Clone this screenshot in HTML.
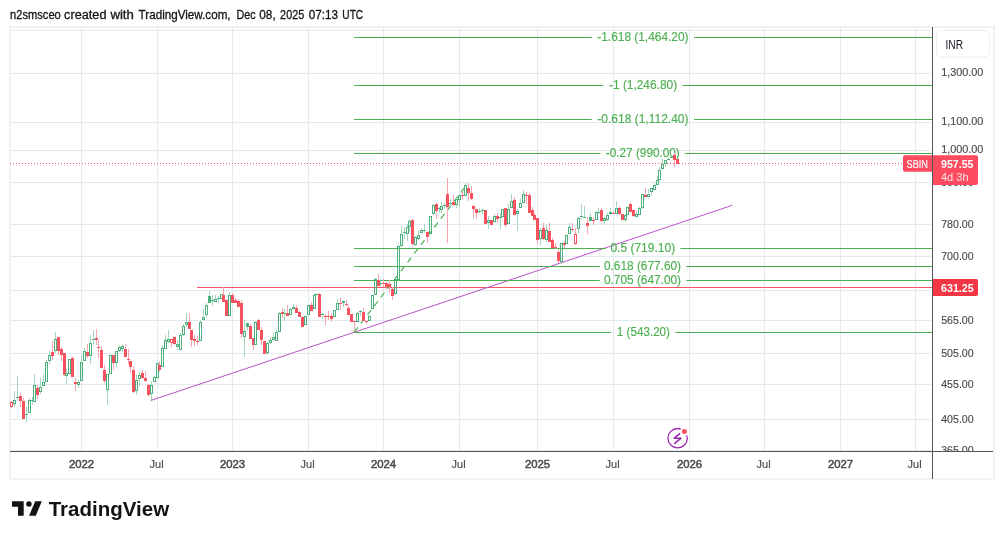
<!DOCTYPE html>
<html><head><meta charset="utf-8"><title>SBIN chart</title><style>
html,body{margin:0;padding:0;background:#fff;width:1004px;height:539px;overflow:hidden;}
svg{display:block;will-change:transform;}
text{font-family:'Liberation Sans', sans-serif;}
.t{stroke:currentColor;stroke-width:0.3px;}
.t2{stroke:currentColor;stroke-width:0.15px;}
.t3{stroke:currentColor;stroke-width:0.5px;}
</style></head><body>
<svg width="1004" height="539" viewBox="0 0 1004 539">

<text class="t" color="#161616" x="10.0" y="19" font-size="12" fill="#161616" textLength="50.8" lengthAdjust="spacingAndGlyphs">n2smsceo</text>
<text class="t" color="#161616" x="64.1" y="19" font-size="12" fill="#161616" textLength="42.4" lengthAdjust="spacingAndGlyphs">created</text>
<text class="t" color="#161616" x="110.4" y="19" font-size="12" fill="#161616" textLength="23.5" lengthAdjust="spacingAndGlyphs">with</text>
<text class="t" color="#161616" x="138.6" y="19" font-size="12" fill="#161616" textLength="92.0" lengthAdjust="spacingAndGlyphs">TradingView.com,</text>
<text class="t" color="#161616" x="236.6" y="19" font-size="12" fill="#161616" textLength="19.1" lengthAdjust="spacingAndGlyphs">Dec</text>
<text class="t" color="#161616" x="259.3" y="19" font-size="12" fill="#161616" textLength="16.4" lengthAdjust="spacingAndGlyphs">08,</text>
<text class="t" color="#161616" x="280.1" y="19" font-size="12" fill="#161616" textLength="24.2" lengthAdjust="spacingAndGlyphs">2025</text>
<text class="t" color="#161616" x="308.7" y="19" font-size="12" fill="#161616" textLength="29.3" lengthAdjust="spacingAndGlyphs">07:13</text>
<text class="t" color="#161616" x="342.3" y="19" font-size="12" fill="#161616" textLength="20.9" lengthAdjust="spacingAndGlyphs">UTC</text>
<rect x="10" y="27" width="984" height="452" fill="#fff" stroke="#f2f2f2" stroke-width="2"/>
<defs><clipPath id="pc"><rect x="10" y="27" width="922" height="424"/></clipPath></defs>
<g clip-path="url(#pc)">
<rect x="10" y="30" width="921" height="1" fill="#e0eaf0"/>
<rect x="10" y="73" width="921" height="1" fill="#e0eaf0"/>
<rect x="10" y="122" width="921" height="1" fill="#e0eaf0"/>
<rect x="10" y="150" width="921" height="1" fill="#e0eaf0"/>
<rect x="10" y="182" width="921" height="1" fill="#e0eaf0"/>
<rect x="10" y="224" width="921" height="1" fill="#e0eaf0"/>
<rect x="10" y="256" width="921" height="1" fill="#e0eaf0"/>
<rect x="10" y="290" width="921" height="1" fill="#e0eaf0"/>
<rect x="10" y="320" width="921" height="1" fill="#e0eaf0"/>
<rect x="10" y="353" width="921" height="1" fill="#e0eaf0"/>
<rect x="10" y="384" width="921" height="1" fill="#e0eaf0"/>
<rect x="10" y="419" width="921" height="1" fill="#e0eaf0"/>
<rect x="10" y="450" width="921" height="1" fill="#e0eaf0"/>
<rect x="81" y="27" width="1" height="424" fill="#e0eaf0"/>
<rect x="157" y="27" width="1" height="424" fill="#e0eaf0"/>
<rect x="232" y="27" width="1" height="424" fill="#e0eaf0"/>
<rect x="308" y="27" width="1" height="424" fill="#e0eaf0"/>
<rect x="383" y="27" width="1" height="424" fill="#e0eaf0"/>
<rect x="459" y="27" width="1" height="424" fill="#e0eaf0"/>
<rect x="537" y="27" width="1" height="424" fill="#e0eaf0"/>
<rect x="613" y="27" width="1" height="424" fill="#e0eaf0"/>
<rect x="689" y="27" width="1" height="424" fill="#e0eaf0"/>
<rect x="764" y="27" width="1" height="424" fill="#e0eaf0"/>
<rect x="840" y="27" width="1" height="424" fill="#e0eaf0"/>
<rect x="915" y="27" width="1" height="424" fill="#e0eaf0"/>
<line x1="10" y1="163.5" x2="903" y2="163.5" stroke="#f7525f" stroke-width="1" stroke-dasharray="1 2"/>
<rect x="197" y="287" width="735" height="1" fill="#f7525f"/>
<line x1="150.6" y1="400.6" x2="732.3" y2="205.3" stroke="#b852c8" stroke-width="1"/>
<rect x="354" y="37" width="237.7" height="1" fill="#4caf50"/>
<rect x="694.0" y="37" width="238.0" height="1" fill="#4caf50"/>
<text class="t2" color="#4caf50" x="597.3" y="40.9" font-size="12.5" fill="#4caf50" textLength="91.2" lengthAdjust="spacingAndGlyphs">-1.618 (1,464.20)</text>
<rect x="354" y="85" width="249.1" height="1" fill="#4caf50"/>
<rect x="682.5" y="85" width="249.5" height="1" fill="#4caf50"/>
<text class="t2" color="#4caf50" x="609.0" y="88.9" font-size="12.5" fill="#4caf50" textLength="68.1" lengthAdjust="spacingAndGlyphs">-1 (1,246.80)</text>
<rect x="354" y="119" width="237.7" height="1" fill="#4caf50"/>
<rect x="694.0" y="119" width="238.0" height="1" fill="#4caf50"/>
<text class="t2" color="#4caf50" x="597.3" y="122.9" font-size="12.5" fill="#4caf50" textLength="91.2" lengthAdjust="spacingAndGlyphs">-0.618 (1,112.40)</text>
<rect x="354" y="153" width="246.4" height="1" fill="#4caf50"/>
<rect x="685.2" y="153" width="246.8" height="1" fill="#4caf50"/>
<text class="t2" color="#4caf50" x="605.8" y="156.9" font-size="12.5" fill="#4caf50" textLength="74.0" lengthAdjust="spacingAndGlyphs">-0.27 (990.00)</text>
<rect x="354" y="248" width="251.9" height="1" fill="#4caf50"/>
<rect x="680.4" y="248" width="251.6" height="1" fill="#4caf50"/>
<text class="t2" color="#4caf50" x="610.4" y="251.9" font-size="12.5" fill="#4caf50" textLength="64.8" lengthAdjust="spacingAndGlyphs">0.5 (719.10)</text>
<rect x="354" y="266" width="245.7" height="1" fill="#4caf50"/>
<rect x="686.2" y="266" width="245.8" height="1" fill="#4caf50"/>
<text class="t2" color="#4caf50" x="604.0" y="269.9" font-size="12.5" fill="#4caf50" textLength="77.0" lengthAdjust="spacingAndGlyphs">0.618 (677.60)</text>
<rect x="354" y="280" width="245.7" height="1" fill="#4caf50"/>
<rect x="686.2" y="280" width="245.8" height="1" fill="#4caf50"/>
<text class="t2" color="#4caf50" x="604.0" y="283.9" font-size="12.5" fill="#4caf50" textLength="77.0" lengthAdjust="spacingAndGlyphs">0.705 (647.00)</text>
<rect x="354" y="332" width="256.8" height="1" fill="#4caf50"/>
<rect x="675.2" y="332" width="256.8" height="1" fill="#4caf50"/>
<text class="t2" color="#4caf50" x="616.8" y="335.9" font-size="12.5" fill="#4caf50" textLength="53.2" lengthAdjust="spacingAndGlyphs">1 (543.20)</text>
<line x1="354.3" y1="332.1" x2="466.5" y2="185" stroke="#4caf50" stroke-width="1.2" stroke-dasharray="6 5" stroke-dashoffset="0.2"/>
<rect x="11" y="401" width="1" height="1" fill="#f9a5ad"/>
<rect x="11" y="407" width="1" height="1" fill="#f9a5ad"/>
<path d="M10 402h3v5h-3z M11 403v3h1v-3z" fill="#f7525f" fill-rule="evenodd"/>
<rect x="14" y="391" width="1" height="9" fill="#a6d8bb"/>
<rect x="14" y="404" width="1" height="3" fill="#a6d8bb"/>
<path d="M13 400h3v4h-3z M14 401v2h1v-2z" fill="#4caf7d" fill-rule="evenodd"/>
<rect x="17" y="376" width="1" height="21" fill="#a6d8bb"/>
<rect x="17" y="398" width="1" height="2" fill="#a6d8bb"/>
<rect x="16" y="397" width="3" height="1" fill="#4caf7d"/>
<rect x="20" y="393" width="1" height="3" fill="#f9a5ad"/>
<rect x="20" y="401" width="1" height="6" fill="#f9a5ad"/>
<rect x="19" y="396" width="3" height="5" fill="#f7525f"/>
<rect x="23" y="398" width="1" height="3" fill="#f9a5ad"/>
<rect x="22" y="401" width="3" height="18" fill="#f7525f"/>
<rect x="26" y="407" width="1" height="7" fill="#a6d8bb"/>
<rect x="26" y="415" width="1" height="7" fill="#a6d8bb"/>
<rect x="25" y="414" width="3" height="1" fill="#4caf7d"/>
<rect x="29" y="398" width="1" height="2" fill="#a6d8bb"/>
<path d="M28 400h3v13h-3z M29 401v11h1v-11z" fill="#4caf7d" fill-rule="evenodd"/>
<rect x="32" y="397" width="1" height="3" fill="#a6d8bb"/>
<rect x="32" y="401" width="1" height="4" fill="#a6d8bb"/>
<rect x="31" y="400" width="3" height="1" fill="#4caf7d"/>
<rect x="34" y="374" width="1" height="11" fill="#a6d8bb"/>
<path d="M33 385h3v17h-3z M34 386v15h1v-15z" fill="#4caf7d" fill-rule="evenodd"/>
<rect x="37" y="385" width="1" height="3" fill="#f9a5ad"/>
<rect x="37" y="395" width="1" height="4" fill="#f9a5ad"/>
<rect x="36" y="388" width="3" height="7" fill="#f7525f"/>
<rect x="40" y="378" width="1" height="9" fill="#a6d8bb"/>
<rect x="40" y="392" width="1" height="2" fill="#a6d8bb"/>
<path d="M39 387h3v5h-3z M40 388v3h1v-3z" fill="#4caf7d" fill-rule="evenodd"/>
<rect x="43" y="374" width="1" height="8" fill="#a6d8bb"/>
<path d="M42 382h3v4h-3z M43 383v2h1v-2z" fill="#4caf7d" fill-rule="evenodd"/>
<rect x="46" y="360" width="1" height="2" fill="#a6d8bb"/>
<path d="M45 362h3v20h-3z M46 363v18h1v-18z" fill="#4caf7d" fill-rule="evenodd"/>
<rect x="49" y="351" width="1" height="4" fill="#a6d8bb"/>
<rect x="49" y="361" width="1" height="3" fill="#a6d8bb"/>
<path d="M48 355h3v6h-3z M49 356v4h1v-4z" fill="#4caf7d" fill-rule="evenodd"/>
<rect x="52" y="341" width="1" height="11" fill="#f9a5ad"/>
<rect x="52" y="356" width="1" height="4" fill="#f9a5ad"/>
<rect x="51" y="352" width="3" height="4" fill="#f7525f"/>
<rect x="55" y="332" width="1" height="7" fill="#a6d8bb"/>
<rect x="55" y="351" width="1" height="2" fill="#a6d8bb"/>
<path d="M54 339h3v12h-3z M55 340v10h1v-10z" fill="#4caf7d" fill-rule="evenodd"/>
<rect x="58" y="351" width="1" height="4" fill="#f9a5ad"/>
<rect x="57" y="337" width="3" height="14" fill="#f7525f"/>
<rect x="61" y="347" width="1" height="2" fill="#f9a5ad"/>
<rect x="61" y="355" width="1" height="6" fill="#f9a5ad"/>
<rect x="60" y="349" width="3" height="6" fill="#f7525f"/>
<rect x="64" y="375" width="1" height="1" fill="#f9a5ad"/>
<rect x="63" y="353" width="3" height="22" fill="#f7525f"/>
<rect x="66" y="369" width="1" height="4" fill="#a6d8bb"/>
<rect x="66" y="376" width="1" height="8" fill="#a6d8bb"/>
<path d="M65 373h3v3h-3z M66 374v1h1v-1z" fill="#4caf7d" fill-rule="evenodd"/>
<rect x="69" y="374" width="1" height="1" fill="#a6d8bb"/>
<path d="M68 359h3v15h-3z M69 360v13h1v-13z" fill="#4caf7d" fill-rule="evenodd"/>
<rect x="72" y="357" width="1" height="1" fill="#f9a5ad"/>
<rect x="71" y="358" width="3" height="19" fill="#f7525f"/>
<rect x="75" y="378" width="1" height="4" fill="#f9a5ad"/>
<rect x="75" y="384" width="1" height="7" fill="#f9a5ad"/>
<rect x="74" y="382" width="3" height="2" fill="#f7525f"/>
<rect x="78" y="380" width="1" height="2" fill="#a6d8bb"/>
<rect x="78" y="385" width="1" height="3" fill="#a6d8bb"/>
<path d="M77 382h3v3h-3z M78 383v1h1v-1z" fill="#4caf7d" fill-rule="evenodd"/>
<rect x="81" y="355" width="1" height="7" fill="#a6d8bb"/>
<path d="M80 362h3v19h-3z M81 363v17h1v-17z" fill="#4caf7d" fill-rule="evenodd"/>
<rect x="84" y="348" width="1" height="3" fill="#a6d8bb"/>
<path d="M83 351h3v10h-3z M84 352v8h1v-8z" fill="#4caf7d" fill-rule="evenodd"/>
<rect x="87" y="344" width="1" height="8" fill="#f9a5ad"/>
<rect x="87" y="356" width="1" height="2" fill="#f9a5ad"/>
<rect x="86" y="352" width="3" height="4" fill="#f7525f"/>
<rect x="90" y="335" width="1" height="8" fill="#a6d8bb"/>
<rect x="90" y="356" width="1" height="8" fill="#a6d8bb"/>
<path d="M89 343h3v13h-3z M90 344v11h1v-11z" fill="#4caf7d" fill-rule="evenodd"/>
<rect x="93" y="330" width="1" height="9" fill="#a6d8bb"/>
<rect x="93" y="340" width="1" height="5" fill="#a6d8bb"/>
<rect x="92" y="339" width="3" height="1" fill="#4caf7d"/>
<rect x="96" y="329" width="1" height="9" fill="#f9a5ad"/>
<rect x="96" y="340" width="1" height="5" fill="#f9a5ad"/>
<rect x="95" y="338" width="3" height="2" fill="#f7525f"/>
<rect x="98" y="340" width="1" height="7" fill="#f9a5ad"/>
<rect x="98" y="348" width="1" height="10" fill="#f9a5ad"/>
<rect x="97" y="347" width="3" height="1" fill="#f7525f"/>
<rect x="101" y="346" width="1" height="4" fill="#f9a5ad"/>
<rect x="100" y="350" width="3" height="18" fill="#f7525f"/>
<rect x="104" y="365" width="1" height="5" fill="#f9a5ad"/>
<rect x="104" y="381" width="1" height="2" fill="#f9a5ad"/>
<rect x="103" y="370" width="3" height="11" fill="#f7525f"/>
<rect x="107" y="390" width="1" height="15" fill="#a6d8bb"/>
<path d="M106 374h3v16h-3z M107 375v14h1v-14z" fill="#4caf7d" fill-rule="evenodd"/>
<rect x="110" y="354" width="1" height="1" fill="#a6d8bb"/>
<path d="M109 355h3v19h-3z M110 356v17h1v-17z" fill="#4caf7d" fill-rule="evenodd"/>
<rect x="113" y="363" width="1" height="7" fill="#f9a5ad"/>
<rect x="112" y="355" width="3" height="8" fill="#f7525f"/>
<rect x="116" y="363" width="1" height="4" fill="#a6d8bb"/>
<path d="M115 351h3v12h-3z M116 352v10h1v-10z" fill="#4caf7d" fill-rule="evenodd"/>
<rect x="119" y="345" width="1" height="2" fill="#a6d8bb"/>
<rect x="119" y="351" width="1" height="1" fill="#a6d8bb"/>
<path d="M118 347h3v4h-3z M119 348v2h1v-2z" fill="#4caf7d" fill-rule="evenodd"/>
<rect x="122" y="344" width="1" height="2" fill="#a6d8bb"/>
<rect x="122" y="349" width="1" height="3" fill="#a6d8bb"/>
<path d="M121 346h3v3h-3z M122 347v1h1v-1z" fill="#4caf7d" fill-rule="evenodd"/>
<rect x="125" y="344" width="1" height="5" fill="#f9a5ad"/>
<rect x="124" y="349" width="3" height="8" fill="#f7525f"/>
<rect x="128" y="349" width="1" height="10" fill="#f9a5ad"/>
<rect x="128" y="360" width="1" height="4" fill="#f9a5ad"/>
<rect x="127" y="359" width="3" height="1" fill="#f7525f"/>
<rect x="130" y="367" width="1" height="6" fill="#f9a5ad"/>
<rect x="129" y="361" width="3" height="6" fill="#f7525f"/>
<rect x="133" y="366" width="1" height="4" fill="#f9a5ad"/>
<rect x="133" y="392" width="1" height="1" fill="#f9a5ad"/>
<rect x="132" y="370" width="3" height="22" fill="#f7525f"/>
<rect x="136" y="375" width="1" height="5" fill="#a6d8bb"/>
<rect x="136" y="391" width="1" height="4" fill="#a6d8bb"/>
<path d="M135 380h3v11h-3z M136 381v9h1v-9z" fill="#4caf7d" fill-rule="evenodd"/>
<rect x="139" y="372" width="1" height="3" fill="#a6d8bb"/>
<rect x="139" y="379" width="1" height="7" fill="#a6d8bb"/>
<path d="M138 375h3v4h-3z M139 376v2h1v-2z" fill="#4caf7d" fill-rule="evenodd"/>
<rect x="142" y="370" width="1" height="3" fill="#f9a5ad"/>
<rect x="142" y="378" width="1" height="1" fill="#f9a5ad"/>
<rect x="141" y="373" width="3" height="5" fill="#f7525f"/>
<rect x="145" y="371" width="1" height="7" fill="#f9a5ad"/>
<rect x="145" y="381" width="1" height="1" fill="#f9a5ad"/>
<rect x="144" y="378" width="3" height="3" fill="#f7525f"/>
<rect x="148" y="384" width="1" height="1" fill="#f9a5ad"/>
<rect x="148" y="395" width="1" height="1" fill="#f9a5ad"/>
<rect x="147" y="385" width="3" height="10" fill="#f7525f"/>
<rect x="151" y="381" width="1" height="4" fill="#a6d8bb"/>
<rect x="151" y="394" width="1" height="6" fill="#a6d8bb"/>
<path d="M150 385h3v9h-3z M151 386v7h1v-7z" fill="#4caf7d" fill-rule="evenodd"/>
<rect x="154" y="376" width="1" height="1" fill="#a6d8bb"/>
<path d="M153 377h3v5h-3z M154 378v3h1v-3z" fill="#4caf7d" fill-rule="evenodd"/>
<rect x="157" y="362" width="1" height="1" fill="#a6d8bb"/>
<path d="M156 363h3v15h-3z M157 364v13h1v-13z" fill="#4caf7d" fill-rule="evenodd"/>
<rect x="159" y="361" width="1" height="4" fill="#f9a5ad"/>
<rect x="159" y="370" width="1" height="2" fill="#f9a5ad"/>
<rect x="158" y="365" width="3" height="5" fill="#f7525f"/>
<rect x="162" y="345" width="1" height="3" fill="#a6d8bb"/>
<path d="M161 348h3v19h-3z M162 349v17h1v-17z" fill="#4caf7d" fill-rule="evenodd"/>
<rect x="165" y="335" width="1" height="5" fill="#a6d8bb"/>
<path d="M164 340h3v9h-3z M165 341v7h1v-7z" fill="#4caf7d" fill-rule="evenodd"/>
<rect x="168" y="330" width="1" height="9" fill="#a6d8bb"/>
<rect x="168" y="342" width="1" height="1" fill="#a6d8bb"/>
<path d="M167 339h3v3h-3z M168 340v1h1v-1z" fill="#4caf7d" fill-rule="evenodd"/>
<rect x="171" y="343" width="1" height="4" fill="#f9a5ad"/>
<path d="M170 339h3v4h-3z M171 340v2h1v-2z" fill="#f7525f" fill-rule="evenodd"/>
<rect x="174" y="336" width="1" height="1" fill="#f9a5ad"/>
<rect x="174" y="344" width="1" height="1" fill="#f9a5ad"/>
<rect x="173" y="337" width="3" height="7" fill="#f7525f"/>
<rect x="177" y="340" width="1" height="4" fill="#a6d8bb"/>
<rect x="177" y="347" width="1" height="3" fill="#a6d8bb"/>
<path d="M176 344h3v3h-3z M177 345v1h1v-1z" fill="#4caf7d" fill-rule="evenodd"/>
<rect x="180" y="333" width="1" height="2" fill="#a6d8bb"/>
<path d="M179 335h3v15h-3z M180 336v13h1v-13z" fill="#4caf7d" fill-rule="evenodd"/>
<rect x="183" y="324" width="1" height="2" fill="#a6d8bb"/>
<rect x="183" y="335" width="1" height="1" fill="#a6d8bb"/>
<path d="M182 326h3v9h-3z M183 327v7h1v-7z" fill="#4caf7d" fill-rule="evenodd"/>
<rect x="186" y="313" width="1" height="9" fill="#a6d8bb"/>
<rect x="186" y="325" width="1" height="2" fill="#a6d8bb"/>
<path d="M185 322h3v3h-3z M186 323v1h1v-1z" fill="#4caf7d" fill-rule="evenodd"/>
<rect x="189" y="313" width="1" height="9" fill="#f9a5ad"/>
<rect x="188" y="322" width="3" height="7" fill="#f7525f"/>
<rect x="191" y="340" width="1" height="7" fill="#f9a5ad"/>
<rect x="190" y="330" width="3" height="10" fill="#f7525f"/>
<rect x="194" y="335" width="1" height="4" fill="#f9a5ad"/>
<rect x="194" y="341" width="1" height="5" fill="#f9a5ad"/>
<rect x="193" y="339" width="3" height="2" fill="#f7525f"/>
<rect x="197" y="336" width="1" height="5" fill="#f9a5ad"/>
<rect x="197" y="342" width="1" height="3" fill="#f9a5ad"/>
<rect x="196" y="341" width="3" height="1" fill="#f7525f"/>
<rect x="200" y="320" width="1" height="2" fill="#a6d8bb"/>
<path d="M199 322h3v19h-3z M200 323v17h1v-17z" fill="#4caf7d" fill-rule="evenodd"/>
<rect x="203" y="309" width="1" height="8" fill="#a6d8bb"/>
<path d="M202 317h3v3h-3z M203 318v1h1v-1z" fill="#4caf7d" fill-rule="evenodd"/>
<rect x="206" y="303" width="1" height="2" fill="#a6d8bb"/>
<rect x="206" y="315" width="1" height="2" fill="#a6d8bb"/>
<path d="M205 305h3v10h-3z M206 306v8h1v-8z" fill="#4caf7d" fill-rule="evenodd"/>
<rect x="209" y="291" width="1" height="5" fill="#a6d8bb"/>
<rect x="208" y="296" width="3" height="7" fill="#4caf7d"/>
<rect x="212" y="295" width="1" height="5" fill="#a6d8bb"/>
<rect x="212" y="301" width="1" height="5" fill="#a6d8bb"/>
<rect x="211" y="300" width="3" height="1" fill="#4caf7d"/>
<rect x="215" y="295" width="1" height="4" fill="#a6d8bb"/>
<path d="M214 299h3v3h-3z M215 300v1h1v-1z" fill="#4caf7d" fill-rule="evenodd"/>
<rect x="218" y="296" width="1" height="2" fill="#a6d8bb"/>
<rect x="218" y="299" width="1" height="4" fill="#a6d8bb"/>
<rect x="217" y="298" width="3" height="1" fill="#4caf7d"/>
<path d="M220 294h3v5h-3z M221 295v3h1v-3z" fill="#4caf7d" fill-rule="evenodd"/>
<rect x="223" y="287" width="1" height="8" fill="#f9a5ad"/>
<rect x="222" y="295" width="3" height="7" fill="#f7525f"/>
<rect x="226" y="299" width="1" height="1" fill="#f9a5ad"/>
<rect x="225" y="300" width="3" height="16" fill="#f7525f"/>
<rect x="229" y="292" width="1" height="3" fill="#a6d8bb"/>
<path d="M228 295h3v21h-3z M229 296v19h1v-19z" fill="#4caf7d" fill-rule="evenodd"/>
<rect x="232" y="293" width="1" height="2" fill="#f9a5ad"/>
<rect x="231" y="295" width="3" height="8" fill="#f7525f"/>
<rect x="235" y="298" width="1" height="2" fill="#f9a5ad"/>
<rect x="234" y="300" width="3" height="3" fill="#f7525f"/>
<rect x="238" y="299" width="1" height="2" fill="#f9a5ad"/>
<rect x="237" y="301" width="3" height="6" fill="#f7525f"/>
<rect x="241" y="300" width="1" height="3" fill="#f9a5ad"/>
<rect x="241" y="334" width="1" height="4" fill="#f9a5ad"/>
<rect x="240" y="303" width="3" height="31" fill="#f7525f"/>
<rect x="244" y="320" width="1" height="11" fill="#a6d8bb"/>
<rect x="244" y="337" width="1" height="20" fill="#a6d8bb"/>
<path d="M243 331h3v6h-3z M244 332v4h1v-4z" fill="#4caf7d" fill-rule="evenodd"/>
<rect x="247" y="327" width="1" height="4" fill="#a6d8bb"/>
<rect x="246" y="323" width="3" height="4" fill="#4caf7d"/>
<rect x="250" y="324" width="1" height="2" fill="#f9a5ad"/>
<rect x="249" y="326" width="3" height="13" fill="#f7525f"/>
<rect x="253" y="345" width="1" height="5" fill="#f9a5ad"/>
<rect x="252" y="338" width="3" height="7" fill="#f7525f"/>
<rect x="255" y="321" width="1" height="1" fill="#a6d8bb"/>
<path d="M254 322h3v23h-3z M255 323v21h1v-21z" fill="#4caf7d" fill-rule="evenodd"/>
<rect x="258" y="319" width="1" height="1" fill="#f9a5ad"/>
<rect x="257" y="320" width="3" height="10" fill="#f7525f"/>
<rect x="261" y="327" width="1" height="3" fill="#f9a5ad"/>
<rect x="261" y="340" width="1" height="5" fill="#f9a5ad"/>
<rect x="260" y="330" width="3" height="10" fill="#f7525f"/>
<rect x="263" y="341" width="3" height="13" fill="#f7525f"/>
<rect x="267" y="342" width="1" height="1" fill="#a6d8bb"/>
<rect x="267" y="353" width="1" height="2" fill="#a6d8bb"/>
<path d="M266 343h3v10h-3z M267 344v8h1v-8z" fill="#4caf7d" fill-rule="evenodd"/>
<rect x="270" y="337" width="1" height="3" fill="#a6d8bb"/>
<rect x="270" y="343" width="1" height="1" fill="#a6d8bb"/>
<path d="M269 340h3v3h-3z M270 341v1h1v-1z" fill="#4caf7d" fill-rule="evenodd"/>
<rect x="273" y="333" width="1" height="4" fill="#a6d8bb"/>
<path d="M272 337h3v3h-3z M273 338v1h1v-1z" fill="#4caf7d" fill-rule="evenodd"/>
<rect x="276" y="330" width="1" height="2" fill="#a6d8bb"/>
<path d="M275 332h3v9h-3z M276 333v7h1v-7z" fill="#4caf7d" fill-rule="evenodd"/>
<rect x="279" y="312" width="1" height="1" fill="#a6d8bb"/>
<path d="M278 313h3v19h-3z M279 314v17h1v-17z" fill="#4caf7d" fill-rule="evenodd"/>
<rect x="282" y="308" width="1" height="4" fill="#f9a5ad"/>
<rect x="282" y="314" width="1" height="4" fill="#f9a5ad"/>
<rect x="281" y="312" width="3" height="2" fill="#f7525f"/>
<rect x="284" y="309" width="1" height="4" fill="#a6d8bb"/>
<rect x="284" y="314" width="1" height="7" fill="#a6d8bb"/>
<rect x="283" y="313" width="3" height="1" fill="#4caf7d"/>
<rect x="287" y="305" width="1" height="8" fill="#f9a5ad"/>
<rect x="286" y="313" width="3" height="3" fill="#f7525f"/>
<rect x="290" y="308" width="1" height="1" fill="#a6d8bb"/>
<path d="M289 309h3v6h-3z M290 310v4h1v-4z" fill="#4caf7d" fill-rule="evenodd"/>
<rect x="293" y="304" width="1" height="3" fill="#a6d8bb"/>
<rect x="293" y="309" width="1" height="1" fill="#a6d8bb"/>
<rect x="292" y="307" width="3" height="2" fill="#4caf7d"/>
<rect x="296" y="305" width="1" height="3" fill="#f9a5ad"/>
<rect x="295" y="308" width="3" height="5" fill="#f7525f"/>
<rect x="299" y="311" width="1" height="1" fill="#f9a5ad"/>
<rect x="298" y="312" width="3" height="5" fill="#f7525f"/>
<rect x="302" y="316" width="1" height="1" fill="#f9a5ad"/>
<rect x="301" y="317" width="3" height="10" fill="#f7525f"/>
<rect x="305" y="315" width="1" height="1" fill="#a6d8bb"/>
<path d="M304 316h3v9h-3z M305 317v7h1v-7z" fill="#4caf7d" fill-rule="evenodd"/>
<path d="M307 305h3v10h-3z M308 306v8h1v-8z" fill="#4caf7d" fill-rule="evenodd"/>
<rect x="311" y="302" width="1" height="3" fill="#f9a5ad"/>
<rect x="310" y="305" width="3" height="6" fill="#f7525f"/>
<rect x="314" y="293" width="1" height="2" fill="#a6d8bb"/>
<path d="M313 295h3v14h-3z M314 296v12h1v-12z" fill="#4caf7d" fill-rule="evenodd"/>
<rect x="316" y="293" width="1" height="1" fill="#a6d8bb"/>
<rect x="315" y="294" width="3" height="1" fill="#4caf7d"/>
<rect x="319" y="293" width="1" height="1" fill="#f9a5ad"/>
<rect x="318" y="294" width="3" height="23" fill="#f7525f"/>
<rect x="322" y="313" width="1" height="1" fill="#a6d8bb"/>
<rect x="322" y="315" width="1" height="4" fill="#a6d8bb"/>
<rect x="321" y="314" width="3" height="1" fill="#4caf7d"/>
<rect x="325" y="314" width="1" height="2" fill="#f9a5ad"/>
<rect x="325" y="317" width="1" height="8" fill="#f9a5ad"/>
<rect x="324" y="316" width="3" height="1" fill="#f7525f"/>
<rect x="328" y="311" width="1" height="5" fill="#f9a5ad"/>
<rect x="328" y="317" width="1" height="3" fill="#f9a5ad"/>
<rect x="327" y="316" width="3" height="1" fill="#f7525f"/>
<rect x="331" y="313" width="1" height="3" fill="#f9a5ad"/>
<rect x="331" y="319" width="1" height="3" fill="#f9a5ad"/>
<rect x="330" y="316" width="3" height="3" fill="#f7525f"/>
<path d="M333 310h3v7h-3z M334 311v5h1v-5z" fill="#4caf7d" fill-rule="evenodd"/>
<rect x="337" y="299" width="1" height="4" fill="#a6d8bb"/>
<path d="M336 303h3v7h-3z M337 304v5h1v-5z" fill="#4caf7d" fill-rule="evenodd"/>
<rect x="340" y="298" width="1" height="5" fill="#f9a5ad"/>
<rect x="340" y="304" width="1" height="6" fill="#f9a5ad"/>
<rect x="339" y="303" width="3" height="1" fill="#f7525f"/>
<rect x="343" y="303" width="1" height="4" fill="#a6d8bb"/>
<rect x="342" y="301" width="3" height="2" fill="#4caf7d"/>
<rect x="346" y="300" width="1" height="4" fill="#f9a5ad"/>
<rect x="346" y="305" width="1" height="1" fill="#f9a5ad"/>
<rect x="345" y="304" width="3" height="1" fill="#f7525f"/>
<rect x="348" y="305" width="1" height="3" fill="#f9a5ad"/>
<rect x="347" y="308" width="3" height="7" fill="#f7525f"/>
<rect x="350" y="314" width="3" height="8" fill="#f7525f"/>
<rect x="354" y="322" width="1" height="9" fill="#f9a5ad"/>
<rect x="353" y="321" width="3" height="1" fill="#f7525f"/>
<rect x="357" y="312" width="1" height="1" fill="#a6d8bb"/>
<path d="M356 313h3v9h-3z M357 314v7h1v-7z" fill="#4caf7d" fill-rule="evenodd"/>
<rect x="360" y="310" width="1" height="1" fill="#a6d8bb"/>
<rect x="360" y="312" width="1" height="4" fill="#a6d8bb"/>
<rect x="359" y="311" width="3" height="1" fill="#4caf7d"/>
<rect x="363" y="308" width="1" height="4" fill="#f9a5ad"/>
<rect x="362" y="312" width="3" height="9" fill="#f7525f"/>
<rect x="366" y="320" width="1" height="1" fill="#f9a5ad"/>
<rect x="366" y="322" width="1" height="2" fill="#f9a5ad"/>
<rect x="365" y="321" width="3" height="1" fill="#f7525f"/>
<rect x="369" y="315" width="1" height="1" fill="#a6d8bb"/>
<path d="M368 316h3v5h-3z M369 317v3h1v-3z" fill="#4caf7d" fill-rule="evenodd"/>
<path d="M371 295h3v14h-3z M372 296v12h1v-12z" fill="#4caf7d" fill-rule="evenodd"/>
<rect x="375" y="278" width="1" height="1" fill="#a6d8bb"/>
<path d="M374 279h3v16h-3z M375 280v14h1v-14z" fill="#4caf7d" fill-rule="evenodd"/>
<rect x="378" y="274" width="1" height="6" fill="#f9a5ad"/>
<rect x="378" y="286" width="1" height="1" fill="#f9a5ad"/>
<rect x="377" y="280" width="3" height="6" fill="#f7525f"/>
<rect x="380" y="279" width="1" height="4" fill="#a6d8bb"/>
<rect x="380" y="284" width="1" height="2" fill="#a6d8bb"/>
<rect x="379" y="283" width="3" height="1" fill="#4caf7d"/>
<rect x="383" y="279" width="1" height="4" fill="#f9a5ad"/>
<rect x="383" y="284" width="1" height="3" fill="#f9a5ad"/>
<rect x="382" y="283" width="3" height="1" fill="#f7525f"/>
<rect x="386" y="282" width="1" height="1" fill="#f9a5ad"/>
<rect x="386" y="287" width="1" height="2" fill="#f9a5ad"/>
<rect x="385" y="283" width="3" height="4" fill="#f7525f"/>
<rect x="389" y="280" width="1" height="4" fill="#f9a5ad"/>
<rect x="389" y="287" width="1" height="6" fill="#f9a5ad"/>
<rect x="388" y="284" width="3" height="3" fill="#f7525f"/>
<rect x="392" y="287" width="1" height="2" fill="#f9a5ad"/>
<rect x="392" y="296" width="1" height="4" fill="#f9a5ad"/>
<rect x="391" y="289" width="3" height="7" fill="#f7525f"/>
<rect x="395" y="278" width="1" height="1" fill="#a6d8bb"/>
<rect x="395" y="294" width="1" height="1" fill="#a6d8bb"/>
<path d="M394 279h3v15h-3z M395 280v13h1v-13z" fill="#4caf7d" fill-rule="evenodd"/>
<rect x="398" y="245" width="1" height="1" fill="#a6d8bb"/>
<path d="M397 246h3v34h-3z M398 247v32h1v-32z" fill="#4caf7d" fill-rule="evenodd"/>
<rect x="401" y="226" width="1" height="8" fill="#a6d8bb"/>
<rect x="401" y="246" width="1" height="1" fill="#a6d8bb"/>
<path d="M400 234h3v12h-3z M401 235v10h1v-10z" fill="#4caf7d" fill-rule="evenodd"/>
<rect x="404" y="227" width="1" height="5" fill="#a6d8bb"/>
<rect x="404" y="233" width="1" height="6" fill="#a6d8bb"/>
<rect x="403" y="232" width="3" height="1" fill="#4caf7d"/>
<rect x="407" y="224" width="1" height="3" fill="#a6d8bb"/>
<rect x="407" y="234" width="1" height="7" fill="#a6d8bb"/>
<path d="M406 227h3v7h-3z M407 228v5h1v-5z" fill="#4caf7d" fill-rule="evenodd"/>
<rect x="409" y="219" width="1" height="2" fill="#a6d8bb"/>
<rect x="409" y="227" width="1" height="5" fill="#a6d8bb"/>
<path d="M408 221h3v6h-3z M409 222v4h1v-4z" fill="#4caf7d" fill-rule="evenodd"/>
<rect x="412" y="219" width="1" height="1" fill="#f9a5ad"/>
<rect x="412" y="244" width="1" height="2" fill="#f9a5ad"/>
<rect x="411" y="220" width="3" height="24" fill="#f7525f"/>
<rect x="415" y="236" width="1" height="1" fill="#a6d8bb"/>
<rect x="415" y="245" width="1" height="1" fill="#a6d8bb"/>
<path d="M414 237h3v8h-3z M415 238v6h1v-6z" fill="#4caf7d" fill-rule="evenodd"/>
<rect x="418" y="231" width="1" height="4" fill="#a6d8bb"/>
<rect x="418" y="239" width="1" height="1" fill="#a6d8bb"/>
<path d="M417 235h3v4h-3z M418 236v2h1v-2z" fill="#4caf7d" fill-rule="evenodd"/>
<rect x="421" y="228" width="1" height="2" fill="#a6d8bb"/>
<path d="M420 230h3v3h-3z M421 231v1h1v-1z" fill="#4caf7d" fill-rule="evenodd"/>
<rect x="424" y="224" width="1" height="6" fill="#a6d8bb"/>
<rect x="424" y="231" width="1" height="2" fill="#a6d8bb"/>
<rect x="423" y="230" width="3" height="1" fill="#4caf7d"/>
<rect x="427" y="231" width="1" height="1" fill="#f9a5ad"/>
<rect x="427" y="237" width="1" height="6" fill="#f9a5ad"/>
<rect x="426" y="232" width="3" height="5" fill="#f7525f"/>
<path d="M429 216h3v18h-3z M430 217v16h1v-16z" fill="#4caf7d" fill-rule="evenodd"/>
<rect x="433" y="204" width="1" height="1" fill="#a6d8bb"/>
<rect x="433" y="214" width="1" height="1" fill="#a6d8bb"/>
<path d="M432 205h3v9h-3z M433 206v7h1v-7z" fill="#4caf7d" fill-rule="evenodd"/>
<rect x="436" y="203" width="1" height="1" fill="#f9a5ad"/>
<rect x="436" y="211" width="1" height="8" fill="#f9a5ad"/>
<rect x="435" y="204" width="3" height="7" fill="#f7525f"/>
<rect x="439" y="207" width="1" height="1" fill="#a6d8bb"/>
<rect x="439" y="209" width="1" height="4" fill="#a6d8bb"/>
<rect x="438" y="208" width="3" height="1" fill="#4caf7d"/>
<rect x="441" y="202" width="1" height="4" fill="#a6d8bb"/>
<rect x="441" y="210" width="1" height="3" fill="#a6d8bb"/>
<path d="M440 206h3v4h-3z M441 207v2h1v-2z" fill="#4caf7d" fill-rule="evenodd"/>
<rect x="444" y="203" width="1" height="2" fill="#a6d8bb"/>
<rect x="444" y="206" width="1" height="3" fill="#a6d8bb"/>
<rect x="443" y="205" width="3" height="1" fill="#4caf7d"/>
<rect x="447" y="178" width="1" height="16" fill="#f9a5ad"/>
<rect x="447" y="207" width="1" height="36" fill="#f9a5ad"/>
<rect x="446" y="194" width="3" height="13" fill="#f7525f"/>
<rect x="450" y="199" width="1" height="4" fill="#a6d8bb"/>
<rect x="450" y="204" width="1" height="4" fill="#a6d8bb"/>
<rect x="449" y="203" width="3" height="1" fill="#4caf7d"/>
<rect x="453" y="195" width="1" height="7" fill="#f9a5ad"/>
<rect x="453" y="205" width="1" height="1" fill="#f9a5ad"/>
<rect x="452" y="202" width="3" height="3" fill="#f7525f"/>
<rect x="456" y="198" width="1" height="1" fill="#a6d8bb"/>
<rect x="456" y="205" width="1" height="3" fill="#a6d8bb"/>
<path d="M455 199h3v6h-3z M456 200v4h1v-4z" fill="#4caf7d" fill-rule="evenodd"/>
<rect x="459" y="194" width="1" height="1" fill="#a6d8bb"/>
<rect x="459" y="200" width="1" height="7" fill="#a6d8bb"/>
<path d="M458 195h3v5h-3z M459 196v3h1v-3z" fill="#4caf7d" fill-rule="evenodd"/>
<rect x="462" y="192" width="1" height="3" fill="#f9a5ad"/>
<rect x="462" y="196" width="1" height="4" fill="#f9a5ad"/>
<rect x="461" y="195" width="3" height="1" fill="#f7525f"/>
<rect x="465" y="183" width="1" height="2" fill="#a6d8bb"/>
<path d="M464 185h3v11h-3z M465 186v9h1v-9z" fill="#4caf7d" fill-rule="evenodd"/>
<rect x="468" y="183" width="1" height="5" fill="#f9a5ad"/>
<rect x="468" y="193" width="1" height="8" fill="#f9a5ad"/>
<rect x="467" y="188" width="3" height="5" fill="#f7525f"/>
<rect x="471" y="186" width="1" height="7" fill="#f9a5ad"/>
<rect x="471" y="199" width="1" height="1" fill="#f9a5ad"/>
<rect x="470" y="193" width="3" height="6" fill="#f7525f"/>
<rect x="473" y="205" width="1" height="1" fill="#f9a5ad"/>
<rect x="473" y="209" width="1" height="9" fill="#f9a5ad"/>
<rect x="472" y="206" width="3" height="3" fill="#f7525f"/>
<rect x="476" y="213" width="1" height="6" fill="#f9a5ad"/>
<rect x="475" y="209" width="3" height="4" fill="#f7525f"/>
<rect x="479" y="208" width="1" height="3" fill="#a6d8bb"/>
<rect x="479" y="212" width="1" height="1" fill="#a6d8bb"/>
<rect x="478" y="211" width="3" height="1" fill="#4caf7d"/>
<rect x="482" y="208" width="1" height="2" fill="#a6d8bb"/>
<rect x="482" y="211" width="1" height="3" fill="#a6d8bb"/>
<rect x="481" y="210" width="3" height="1" fill="#4caf7d"/>
<rect x="484" y="210" width="3" height="14" fill="#f7525f"/>
<rect x="488" y="216" width="1" height="4" fill="#a6d8bb"/>
<rect x="488" y="223" width="1" height="6" fill="#a6d8bb"/>
<path d="M487 220h3v3h-3z M488 221v1h1v-1z" fill="#4caf7d" fill-rule="evenodd"/>
<rect x="490" y="220" width="3" height="5" fill="#f7525f"/>
<rect x="494" y="214" width="1" height="2" fill="#a6d8bb"/>
<rect x="494" y="222" width="1" height="1" fill="#a6d8bb"/>
<path d="M493 216h3v6h-3z M494 217v4h1v-4z" fill="#4caf7d" fill-rule="evenodd"/>
<rect x="497" y="213" width="1" height="3" fill="#f9a5ad"/>
<rect x="497" y="219" width="1" height="4" fill="#f9a5ad"/>
<rect x="496" y="216" width="3" height="3" fill="#f7525f"/>
<rect x="500" y="213" width="1" height="4" fill="#a6d8bb"/>
<rect x="500" y="218" width="1" height="11" fill="#a6d8bb"/>
<rect x="499" y="217" width="3" height="1" fill="#4caf7d"/>
<path d="M501 209h3v8h-3z M502 210v6h1v-6z" fill="#4caf7d" fill-rule="evenodd"/>
<rect x="505" y="225" width="1" height="2" fill="#f9a5ad"/>
<rect x="504" y="208" width="3" height="17" fill="#f7525f"/>
<rect x="508" y="204" width="1" height="5" fill="#a6d8bb"/>
<path d="M507 209h3v15h-3z M508 210v13h1v-13z" fill="#4caf7d" fill-rule="evenodd"/>
<rect x="511" y="194" width="1" height="7" fill="#a6d8bb"/>
<path d="M510 201h3v7h-3z M511 202v5h1v-5z" fill="#4caf7d" fill-rule="evenodd"/>
<rect x="514" y="197" width="1" height="3" fill="#f9a5ad"/>
<rect x="513" y="200" width="3" height="15" fill="#f7525f"/>
<rect x="517" y="209" width="1" height="2" fill="#a6d8bb"/>
<rect x="517" y="214" width="1" height="17" fill="#a6d8bb"/>
<path d="M516 211h3v3h-3z M517 212v1h1v-1z" fill="#4caf7d" fill-rule="evenodd"/>
<rect x="520" y="199" width="1" height="4" fill="#a6d8bb"/>
<path d="M519 203h3v5h-3z M520 204v3h1v-3z" fill="#4caf7d" fill-rule="evenodd"/>
<rect x="523" y="190" width="1" height="4" fill="#a6d8bb"/>
<rect x="523" y="203" width="1" height="1" fill="#a6d8bb"/>
<path d="M522 194h3v9h-3z M523 195v7h1v-7z" fill="#4caf7d" fill-rule="evenodd"/>
<rect x="526" y="192" width="1" height="3" fill="#f9a5ad"/>
<rect x="526" y="196" width="1" height="8" fill="#f9a5ad"/>
<rect x="525" y="195" width="3" height="1" fill="#f7525f"/>
<rect x="529" y="193" width="1" height="2" fill="#f9a5ad"/>
<rect x="528" y="195" width="3" height="18" fill="#f7525f"/>
<rect x="532" y="207" width="1" height="3" fill="#f9a5ad"/>
<rect x="531" y="210" width="3" height="6" fill="#f7525f"/>
<rect x="534" y="213" width="1" height="2" fill="#f9a5ad"/>
<rect x="533" y="215" width="3" height="5" fill="#f7525f"/>
<rect x="537" y="240" width="1" height="5" fill="#f9a5ad"/>
<rect x="536" y="218" width="3" height="22" fill="#f7525f"/>
<rect x="540" y="228" width="1" height="2" fill="#a6d8bb"/>
<rect x="540" y="239" width="1" height="7" fill="#a6d8bb"/>
<path d="M539 230h3v9h-3z M540 231v7h1v-7z" fill="#4caf7d" fill-rule="evenodd"/>
<rect x="543" y="223" width="1" height="5" fill="#f9a5ad"/>
<rect x="543" y="239" width="1" height="1" fill="#f9a5ad"/>
<rect x="542" y="228" width="3" height="11" fill="#f7525f"/>
<rect x="546" y="225" width="1" height="5" fill="#a6d8bb"/>
<rect x="546" y="240" width="1" height="2" fill="#a6d8bb"/>
<path d="M545 230h3v10h-3z M546 231v8h1v-8z" fill="#4caf7d" fill-rule="evenodd"/>
<rect x="549" y="223" width="1" height="8" fill="#f9a5ad"/>
<rect x="548" y="231" width="3" height="11" fill="#f7525f"/>
<rect x="552" y="238" width="1" height="2" fill="#f9a5ad"/>
<rect x="551" y="240" width="3" height="8" fill="#f7525f"/>
<rect x="555" y="243" width="1" height="4" fill="#f9a5ad"/>
<rect x="555" y="248" width="1" height="1" fill="#f9a5ad"/>
<rect x="554" y="247" width="3" height="1" fill="#f7525f"/>
<rect x="558" y="250" width="1" height="2" fill="#f9a5ad"/>
<rect x="558" y="261" width="1" height="2" fill="#f9a5ad"/>
<rect x="557" y="252" width="3" height="9" fill="#f7525f"/>
<rect x="561" y="242" width="1" height="1" fill="#a6d8bb"/>
<rect x="561" y="262" width="1" height="2" fill="#a6d8bb"/>
<path d="M560 243h3v19h-3z M561 244v17h1v-17z" fill="#4caf7d" fill-rule="evenodd"/>
<rect x="564" y="241" width="1" height="2" fill="#f9a5ad"/>
<rect x="564" y="245" width="1" height="3" fill="#f9a5ad"/>
<rect x="563" y="243" width="3" height="2" fill="#f7525f"/>
<rect x="566" y="234" width="1" height="1" fill="#a6d8bb"/>
<path d="M565 235h3v9h-3z M566 236v7h1v-7z" fill="#4caf7d" fill-rule="evenodd"/>
<rect x="569" y="223" width="1" height="4" fill="#a6d8bb"/>
<path d="M568 227h3v7h-3z M569 228v5h1v-5z" fill="#4caf7d" fill-rule="evenodd"/>
<rect x="572" y="223" width="1" height="6" fill="#f9a5ad"/>
<rect x="572" y="230" width="1" height="1" fill="#f9a5ad"/>
<rect x="571" y="229" width="3" height="1" fill="#f7525f"/>
<rect x="575" y="228" width="1" height="6" fill="#f9a5ad"/>
<rect x="575" y="244" width="1" height="1" fill="#f9a5ad"/>
<path d="M574 234h3v10h-3z M575 235v8h1v-8z" fill="#f7525f" fill-rule="evenodd"/>
<rect x="578" y="217" width="1" height="1" fill="#a6d8bb"/>
<rect x="578" y="229" width="1" height="4" fill="#a6d8bb"/>
<path d="M577 218h3v11h-3z M578 219v9h1v-9z" fill="#4caf7d" fill-rule="evenodd"/>
<rect x="581" y="204" width="1" height="12" fill="#a6d8bb"/>
<rect x="581" y="217" width="1" height="2" fill="#a6d8bb"/>
<rect x="580" y="216" width="3" height="1" fill="#4caf7d"/>
<rect x="584" y="206" width="1" height="11" fill="#a6d8bb"/>
<rect x="583" y="217" width="3" height="1" fill="#4caf7d"/>
<rect x="587" y="217" width="1" height="6" fill="#f9a5ad"/>
<rect x="587" y="226" width="1" height="8" fill="#f9a5ad"/>
<rect x="586" y="223" width="3" height="3" fill="#f7525f"/>
<rect x="590" y="213" width="1" height="4" fill="#a6d8bb"/>
<rect x="589" y="217" width="3" height="4" fill="#4caf7d"/>
<rect x="593" y="217" width="1" height="3" fill="#f9a5ad"/>
<rect x="593" y="221" width="1" height="4" fill="#f9a5ad"/>
<rect x="592" y="220" width="3" height="1" fill="#f7525f"/>
<rect x="596" y="211" width="1" height="1" fill="#a6d8bb"/>
<path d="M595 212h3v8h-3z M596 213v6h1v-6z" fill="#4caf7d" fill-rule="evenodd"/>
<rect x="598" y="208" width="1" height="4" fill="#a6d8bb"/>
<rect x="598" y="213" width="1" height="1" fill="#a6d8bb"/>
<rect x="597" y="212" width="3" height="1" fill="#4caf7d"/>
<rect x="601" y="208" width="1" height="2" fill="#f9a5ad"/>
<rect x="601" y="221" width="1" height="1" fill="#f9a5ad"/>
<rect x="600" y="210" width="3" height="11" fill="#f7525f"/>
<rect x="604" y="217" width="1" height="1" fill="#a6d8bb"/>
<rect x="604" y="221" width="1" height="3" fill="#a6d8bb"/>
<path d="M603 218h3v3h-3z M604 219v1h1v-1z" fill="#4caf7d" fill-rule="evenodd"/>
<rect x="607" y="213" width="1" height="2" fill="#a6d8bb"/>
<rect x="607" y="220" width="1" height="1" fill="#a6d8bb"/>
<path d="M606 215h3v5h-3z M607 216v3h1v-3z" fill="#4caf7d" fill-rule="evenodd"/>
<rect x="610" y="208" width="1" height="4" fill="#a6d8bb"/>
<rect x="610" y="214" width="1" height="1" fill="#a6d8bb"/>
<rect x="609" y="212" width="3" height="2" fill="#4caf7d"/>
<rect x="613" y="211" width="1" height="2" fill="#f9a5ad"/>
<rect x="612" y="213" width="3" height="1" fill="#f7525f"/>
<rect x="616" y="201" width="1" height="7" fill="#a6d8bb"/>
<path d="M615 208h3v6h-3z M616 209v4h1v-4z" fill="#4caf7d" fill-rule="evenodd"/>
<rect x="619" y="206" width="1" height="2" fill="#f9a5ad"/>
<rect x="619" y="214" width="1" height="1" fill="#f9a5ad"/>
<rect x="618" y="208" width="3" height="6" fill="#f7525f"/>
<rect x="621" y="214" width="3" height="6" fill="#f7525f"/>
<rect x="625" y="214" width="1" height="1" fill="#a6d8bb"/>
<rect x="625" y="220" width="1" height="2" fill="#a6d8bb"/>
<path d="M624 215h3v5h-3z M625 216v3h1v-3z" fill="#4caf7d" fill-rule="evenodd"/>
<path d="M626 207h3v8h-3z M627 208v6h1v-6z" fill="#4caf7d" fill-rule="evenodd"/>
<rect x="630" y="203" width="1" height="1" fill="#f9a5ad"/>
<rect x="629" y="204" width="3" height="8" fill="#f7525f"/>
<rect x="633" y="216" width="1" height="1" fill="#f9a5ad"/>
<rect x="632" y="210" width="3" height="6" fill="#f7525f"/>
<rect x="636" y="211" width="1" height="3" fill="#a6d8bb"/>
<path d="M635 214h3v3h-3z M636 215v1h1v-1z" fill="#4caf7d" fill-rule="evenodd"/>
<rect x="639" y="207" width="1" height="1" fill="#a6d8bb"/>
<path d="M638 208h3v7h-3z M639 209v5h1v-5z" fill="#4caf7d" fill-rule="evenodd"/>
<rect x="642" y="208" width="1" height="1" fill="#a6d8bb"/>
<path d="M641 194h3v14h-3z M642 195v12h1v-12z" fill="#4caf7d" fill-rule="evenodd"/>
<rect x="645" y="188" width="1" height="7" fill="#f9a5ad"/>
<rect x="644" y="195" width="3" height="2" fill="#f7525f"/>
<rect x="648" y="189" width="1" height="5" fill="#a6d8bb"/>
<path d="M647 194h3v3h-3z M648 195v1h1v-1z" fill="#4caf7d" fill-rule="evenodd"/>
<rect x="651" y="192" width="1" height="4" fill="#a6d8bb"/>
<path d="M650 188h3v4h-3z M651 189v2h1v-2z" fill="#4caf7d" fill-rule="evenodd"/>
<rect x="654" y="183" width="1" height="2" fill="#a6d8bb"/>
<path d="M653 185h3v5h-3z M654 186v3h1v-3z" fill="#4caf7d" fill-rule="evenodd"/>
<rect x="657" y="176" width="1" height="4" fill="#a6d8bb"/>
<path d="M656 180h3v5h-3z M657 181v3h1v-3z" fill="#4caf7d" fill-rule="evenodd"/>
<rect x="659" y="167" width="1" height="3" fill="#a6d8bb"/>
<path d="M658 170h3v10h-3z M659 171v8h1v-8z" fill="#4caf7d" fill-rule="evenodd"/>
<rect x="662" y="159" width="1" height="5" fill="#a6d8bb"/>
<rect x="662" y="169" width="1" height="1" fill="#a6d8bb"/>
<path d="M661 164h3v5h-3z M662 165v3h1v-3z" fill="#4caf7d" fill-rule="evenodd"/>
<rect x="665" y="164" width="1" height="3" fill="#a6d8bb"/>
<path d="M664 160h3v4h-3z M665 161v2h1v-2z" fill="#4caf7d" fill-rule="evenodd"/>
<rect x="668" y="157" width="1" height="2" fill="#a6d8bb"/>
<rect x="667" y="159" width="3" height="1" fill="#4caf7d"/>
<rect x="670" y="157" width="3" height="1" fill="#4caf7d"/>
<rect x="674" y="153" width="1" height="2" fill="#f9a5ad"/>
<rect x="674" y="160" width="1" height="7" fill="#f9a5ad"/>
<rect x="673" y="155" width="3" height="5" fill="#f7525f"/>
<rect x="676" y="159" width="3" height="5" fill="#f7525f"/>
</g>
<rect x="932" y="27" width="1" height="452" fill="#555555"/>
<rect x="10" y="451" width="983" height="1" fill="#555555"/>
<text class="t2" color="#4a4a4a" x="941.2" y="75.95" font-size="11" fill="#4a4a4a" textLength="42.2" lengthAdjust="spacingAndGlyphs">1,300.00</text>
<text class="t2" color="#4a4a4a" x="941.2" y="125.05" font-size="11" fill="#4a4a4a" textLength="42.2" lengthAdjust="spacingAndGlyphs">1,100.00</text>
<text class="t2" color="#4a4a4a" x="941.2" y="152.95" font-size="11" fill="#4a4a4a" textLength="42.2" lengthAdjust="spacingAndGlyphs">1,000.00</text>
<text class="t2" color="#4a4a4a" x="941.2" y="185.95" font-size="11" fill="#4a4a4a" textLength="32.5" lengthAdjust="spacingAndGlyphs">900.00</text>
<text class="t2" color="#4a4a4a" x="941.2" y="227.95" font-size="11" fill="#4a4a4a" textLength="32.5" lengthAdjust="spacingAndGlyphs">780.00</text>
<text class="t2" color="#4a4a4a" x="941.2" y="259.95" font-size="11" fill="#4a4a4a" textLength="32.5" lengthAdjust="spacingAndGlyphs">700.00</text>
<text class="t2" color="#4a4a4a" x="941.2" y="323.95" font-size="11" fill="#4a4a4a" textLength="32.5" lengthAdjust="spacingAndGlyphs">565.00</text>
<text class="t2" color="#4a4a4a" x="941.2" y="357.15" font-size="11" fill="#4a4a4a" textLength="32.5" lengthAdjust="spacingAndGlyphs">505.00</text>
<text class="t2" color="#4a4a4a" x="941.2" y="388.45" font-size="11" fill="#4a4a4a" textLength="32.5" lengthAdjust="spacingAndGlyphs">455.00</text>
<text class="t2" color="#4a4a4a" x="941.2" y="423.10" font-size="11" fill="#4a4a4a" textLength="32.5" lengthAdjust="spacingAndGlyphs">405.00</text>
<svg x="933" y="440" width="60" height="11" overflow="hidden"><text class="t2" color="#4a4a4a" x="8.2" y="14.4" font-size="11" fill="#4a4a4a" textLength="32.5" lengthAdjust="spacingAndGlyphs">365.00</text></svg>
<rect x="936.5" y="30.5" width="53" height="26.5" rx="5" fill="#fff" stroke="#ececec"/>
<text x="945.5" y="48.8" font-size="12" fill="#131722" textLength="17.6" lengthAdjust="spacingAndGlyphs">INR</text>
<path d="M905 155.2 H932 V171.7 H905 Q903 171.7 903 169.7 V157.2 Q903 155.2 905 155.2Z" fill="#fd4c60"/>
<text class="t2" color="#fff" x="906.5" y="167.5" font-size="11" fill="#fff" textLength="21.5" lengthAdjust="spacingAndGlyphs">SBIN</text>
<path d="M933 155.2 H976 Q978 155.2 978 157.2 V183.1 Q978 185.1 976 185.1 H933Z" fill="#fd4c60"/>
<text x="941" y="168" font-size="11" font-weight="bold" fill="#fff" textLength="32.5" lengthAdjust="spacingAndGlyphs">957.55</text>
<text x="941" y="181" font-size="11" fill="#fff" fill-opacity="0.85">4d 3h</text>
<path d="M933 279 H976 Q978 279 978 281 V294 Q978 296 976 296 H933Z" fill="#f23645"/>
<text x="941" y="292" font-size="11" font-weight="bold" fill="#fff" textLength="32.7" lengthAdjust="spacingAndGlyphs">631.25</text>
<text class="t3" color="#4a4a4a" x="68.90" y="468" font-size="11" fill="#4a4a4a" textLength="25.3" lengthAdjust="spacingAndGlyphs">2022</text>
<text class="t2" color="#4a4a4a" x="156.6" y="468" font-size="11" fill="#4a4a4a" text-anchor="middle">Jul</text>
<text class="t3" color="#4a4a4a" x="219.90" y="468" font-size="11" fill="#4a4a4a" textLength="25.3" lengthAdjust="spacingAndGlyphs">2023</text>
<text class="t2" color="#4a4a4a" x="307.6" y="468" font-size="11" fill="#4a4a4a" text-anchor="middle">Jul</text>
<text class="t3" color="#4a4a4a" x="370.90" y="468" font-size="11" fill="#4a4a4a" textLength="25.3" lengthAdjust="spacingAndGlyphs">2024</text>
<text class="t2" color="#4a4a4a" x="458.6" y="468" font-size="11" fill="#4a4a4a" text-anchor="middle">Jul</text>
<text class="t3" color="#4a4a4a" x="524.90" y="468" font-size="11" fill="#4a4a4a" textLength="25.3" lengthAdjust="spacingAndGlyphs">2025</text>
<text class="t2" color="#4a4a4a" x="612.6" y="468" font-size="11" fill="#4a4a4a" text-anchor="middle">Jul</text>
<text class="t3" color="#4a4a4a" x="676.90" y="468" font-size="11" fill="#4a4a4a" textLength="25.3" lengthAdjust="spacingAndGlyphs">2026</text>
<text class="t2" color="#4a4a4a" x="763.6" y="468" font-size="11" fill="#4a4a4a" text-anchor="middle">Jul</text>
<text class="t3" color="#4a4a4a" x="827.90" y="468" font-size="11" fill="#4a4a4a" textLength="25.3" lengthAdjust="spacingAndGlyphs">2027</text>
<text class="t2" color="#4a4a4a" x="914.6" y="468" font-size="11" fill="#4a4a4a" text-anchor="middle">Jul</text>
<circle cx="677.6" cy="438.2" r="9.7" fill="#fff" stroke="#9c27b0" stroke-width="1.3"/>
<path d="M679.8 433.6 L674.2 438.2 H681 L674.8 443.4" fill="none" stroke="#9c27b0" stroke-width="1.6" stroke-linejoin="round" stroke-linecap="round"/>
<circle cx="684.4" cy="431.4" r="4.4" fill="#fff"/>
<circle cx="684.4" cy="431.4" r="2.5" fill="#f7525f"/>
<path d="M12 501.2 H23.7 V515.7 H18 V506.7 H12 Z" fill="#131313"/>
<circle cx="28.9" cy="503.95" r="2.75" fill="#131313"/>
<path d="M35.2 501.2 H41.8 L35.8 515.7 H29.1 Z" fill="#131313"/>
<text x="48.7" y="515.6" font-size="20.4" font-weight="bold" fill="#131313" textLength="120.4" lengthAdjust="spacingAndGlyphs">TradingView</text>
</svg>
</body></html>
